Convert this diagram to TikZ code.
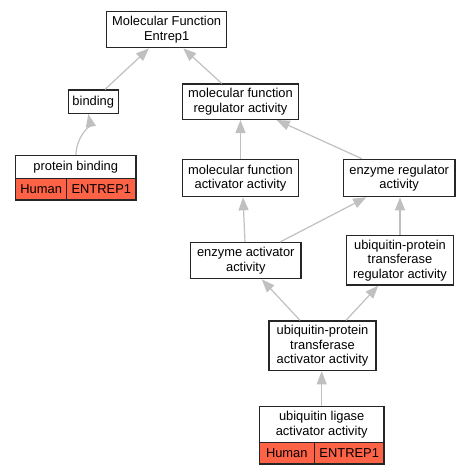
\documentclass[tikz,border=0pt]{standalone}
\usepackage{fontspec}
\setmainfont{Liberation Sans}
\usetikzlibrary{arrows.meta}
\definecolor{edgegray}{HTML}{C0C0C0}
\definecolor{tomatored}{HTML}{FF6347}
\begin{document}
\begin{tikzpicture}[x=1pt,y=-1pt,
  box/.style={draw=black!85, line width=1.3pt, fill=white, align=center, inner sep=0pt,
    font=\fontsize{12.9}{14.5}\selectfont},
  cell/.style={box, fill=tomatored},
  edge/.style={draw=edgegray, line width=1.2pt, -{Triangle[length=13pt,width=10pt]}}]
\useasboundingbox (0,0) rectangle (469,475);
% nodes
\node[box, minimum width=120pt, minimum height=36pt] (mf) at (166.7,29.7) {Molecular Function\\Entrep1};
\node[box, minimum width=50pt, minimum height=23.3pt] (bind) at (93.3,101.7) {binding};
\node[box, minimum width=120.3pt, minimum height=22.6pt] (pb) at (75.8,167) {protein binding};
\node[cell, minimum width=51pt, minimum height=21.7pt] (pbh) at (41.2,189.2) {Human};
\node[cell, minimum width=69.3pt, minimum height=21.7pt] (pbe) at (101.3,189.2) {ENTREP1};
\node[box, minimum width=115.6pt, minimum height=35.3pt] (mfr) at (240.5,101.7) {molecular function\\regulator activity};
\node[box, minimum width=115.6pt, minimum height=37.4pt] (mfa) at (240.5,178) {molecular function\\activator activity};
\node[box, minimum width=111.7pt, minimum height=37.4pt] (er) at (399.2,178) {enzyme regulator\\activity};
\node[box, minimum width=110.3pt, minimum height=36pt] (ea) at (245.8,260.7) {enzyme activator\\activity};
\node[box, minimum width=106.7pt, minimum height=49.3pt] (utr) at (400,260.3) {ubiquitin-protein\\transferase\\regulator activity};
\node[box, minimum width=107pt, minimum height=49.7pt] (uta) at (322.5,345.8) {ubiquitin-protein\\transferase\\activator activity};
\node[box, minimum width=124.7pt, minimum height=35.6pt] (ul) at (321.7,424.5) {ubiquitin ligase\\activator activity};
\node[cell, minimum width=55pt, minimum height=21.7pt] (ulh) at (286.8,453.2) {Human};
\node[cell, minimum width=69.7pt, minimum height=21.7pt] (ule) at (349.2,453.2) {ENTREP1};
% edges
\draw[edge] ([xshift=11.7pt]bind.north) -- ([xshift=-17.7pt]mf.south);
\draw[edge] ([xshift=-18.8pt]mfr.north) -- ([xshift=16.6pt]mf.south);
\draw[edge] ([xshift=0.2pt]pb.north) .. controls ([xshift=0.2pt,yshift=18pt]pb.north) and ([xshift=-3pt,yshift=-10pt]bind.south) .. ([xshift=-5pt]bind.south);
\draw[edge] (mfa.north) -- (mfr.south);
\draw[edge] ([xshift=-37.5pt]er.north) -- ([xshift=36.2pt]mfr.south);
\draw[edge] ([xshift=-0.8pt]ea.north) -- ([xshift=2.5pt]mfa.south);
\draw[edge] ([xshift=34.2pt]ea.north) -- ([xshift=-33pt]er.south);
\draw[edge] (utr.north) -- (utr.north |- er.south);
\draw[edge] ([xshift=-22.5pt]uta.north) -- ([xshift=16pt]ea.south);
\draw[edge] ([xshift=23.5pt]uta.north) -- ([xshift=-21.7pt]utr.south);
\draw[edge] (ul.north) -- (ul.north |- uta.south);
\end{tikzpicture}
\end{document}
